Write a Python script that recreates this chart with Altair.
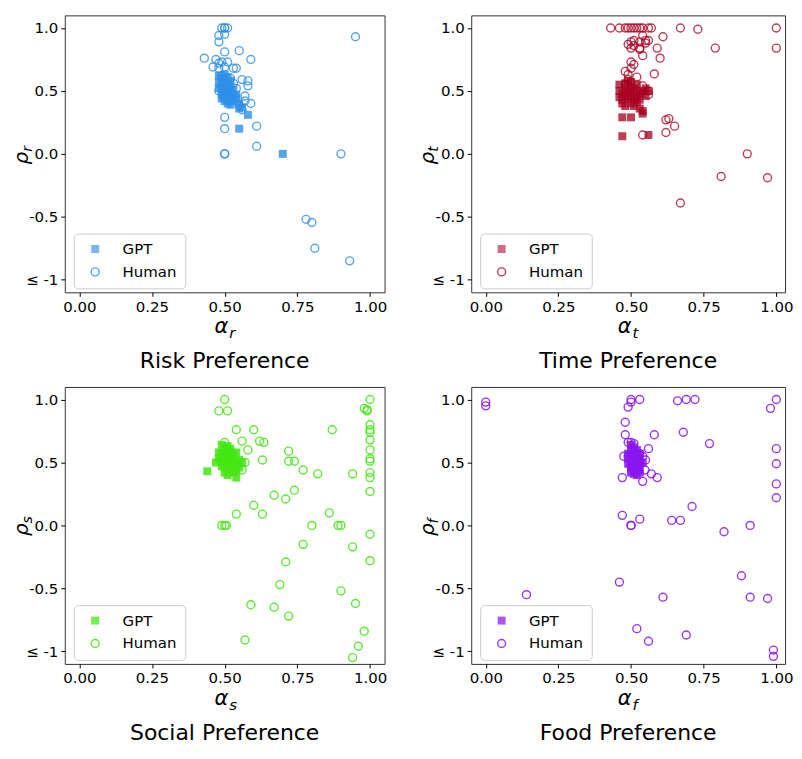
import altair as alt
import pandas as pd

# ---------------- data ----------------
risk_gpt_a = [0.48, 0.49, 0.50, 0.51, 0.48, 0.49, 0.50, 0.51, 0.52, 0.48, 0.49, 0.50, 0.51, 0.52, 0.53,
              0.49, 0.50, 0.51, 0.52, 0.53, 0.54, 0.50, 0.51, 0.52, 0.53, 0.54, 0.55, 0.56, 0.55, 0.52,
              0.49, 0.50, 0.51, 0.58, 0.55, 0.70]
risk_gpt_r = [0.62, 0.60, 0.63, 0.61, 0.57, 0.55, 0.57, 0.56, 0.58, 0.52, 0.50, 0.52, 0.50, 0.53, 0.51,
              0.47, 0.45, 0.46, 0.48, 0.46, 0.47, 0.42, 0.40, 0.43, 0.42, 0.44, 0.40, 0.37, 0.36, 0.39,
              0.44, 0.49, 0.54, 0.31, 0.20, 0.00]
risk_hum_a = [0.50, 0.50, 0.49, 0.51, 0.48, 0.50, 0.48, 0.43, 0.50, 0.55, 0.59, 0.47, 0.48, 0.49, 0.51,
              0.46, 0.48, 0.50, 0.53, 0.54, 0.56, 0.58, 0.58, 0.48, 0.57, 0.59, 0.55, 0.56, 0.57, 0.50,
              0.50, 0.61, 0.61, 0.50, 0.50, 0.90, 0.95, 0.78, 0.80, 0.81, 0.93, 0.49, 0.52, 0.53, 0.54]
risk_hum_r = [1.00, 1.00, 1.00, 1.00, 0.94, 0.95, 0.89, 0.76, 0.81, 0.82, 0.75, 0.75, 0.72, 0.73, 0.73,
              0.69, 0.68, 0.69, 0.68, 0.68, 0.59, 0.58, 0.54, 0.50, 0.46, 0.40, 0.38, 0.35, 0.42, 0.29,
              0.20, 0.22, 0.06, 0.00, 0.00, 0.00, 0.93, -0.52, -0.545, -0.75, -0.85, 0.62, 0.60, 0.56, 0.52]

time_gpt_a = [0.46, 0.48, 0.50, 0.52, 0.46, 0.47, 0.48, 0.49, 0.50, 0.51, 0.52, 0.53, 0.54, 0.55, 0.56,
              0.46, 0.47, 0.48, 0.49, 0.50, 0.51, 0.52, 0.53, 0.55, 0.47, 0.48, 0.50, 0.51, 0.52, 0.53,
              0.54, 0.50, 0.49, 0.47, 0.50, 0.54, 0.47, 0.56]
time_gpt_r = [0.55, 0.56, 0.57, 0.55, 0.50, 0.48, 0.52, 0.50, 0.49, 0.52, 0.50, 0.48, 0.50, 0.52, 0.50,
              0.45, 0.43, 0.46, 0.44, 0.46, 0.44, 0.45, 0.43, 0.46, 0.40, 0.38, 0.40, 0.38, 0.41, 0.36,
              0.34, 0.53, 0.58, 0.29, 0.29, 0.32, 0.14, 0.15]
time_hum_a = [0.43, 0.46, 0.48, 0.49, 0.50, 0.51, 0.52, 0.53, 0.54, 0.56, 0.57, 0.67, 0.73, 1.00, 1.00,
              0.79, 0.61, 0.54, 0.55, 0.53, 0.51, 0.50, 0.49, 0.51, 0.53, 0.56, 0.55, 0.50, 0.53, 0.54,
              0.59, 0.60, 0.50, 0.51, 0.50, 0.48, 0.49, 0.52, 0.58, 0.49, 0.48, 0.54, 0.56, 0.56, 0.62,
              0.63, 0.65, 0.62, 0.54, 0.90, 0.81, 0.97, 0.67]
time_hum_r = [1.00, 1.00, 1.00, 1.00, 1.00, 1.00, 1.00, 1.00, 1.00, 1.00, 1.00, 1.00, 0.99, 1.00, 0.84,
              0.84, 0.93, 0.94, 0.90, 0.89, 0.90, 0.89, 0.87, 0.86, 0.84, 0.90, 0.88, 0.84, 0.83, 0.78,
              0.84, 0.76, 0.73, 0.71, 0.68, 0.655, 0.63, 0.61, 0.635, 0.59, 0.55, 0.54, 0.50, 0.47, 0.27,
              0.28, 0.22, 0.17, 0.15, 0.00, -0.18, -0.19, -0.39]

social_gpt_a = [0.49, 0.50, 0.51, 0.52, 0.48, 0.49, 0.50, 0.51, 0.52, 0.53, 0.54, 0.48, 0.49, 0.50, 0.51,
                0.52, 0.53, 0.54, 0.55, 0.49, 0.50, 0.51, 0.52, 0.53, 0.54, 0.55, 0.50, 0.51, 0.53, 0.54,
                0.52, 0.44, 0.47, 0.56]
social_gpt_r = [0.64, 0.62, 0.63, 0.61, 0.58, 0.57, 0.59, 0.56, 0.58, 0.56, 0.58, 0.53, 0.51, 0.54, 0.52,
                0.50, 0.53, 0.51, 0.52, 0.47, 0.46, 0.48, 0.45, 0.47, 0.44, 0.46, 0.42, 0.40, 0.42, 0.38,
                0.55, 0.43, 0.50, 0.50]
social_hum_a = [0.50, 0.48, 0.51, 0.54, 0.60, 0.56, 0.62, 0.635, 0.58, 0.50, 0.63, 0.57, 0.56, 0.72, 0.72,
                0.74, 0.77, 0.82, 0.87, 0.94, 0.98, 0.99, 0.99, 1.00, 1.00, 1.00, 1.00, 1.00, 1.00, 1.00,
                1.00, 1.00, 1.00, 1.00, 0.74, 0.67, 0.71, 0.60, 0.54, 0.63, 0.49, 0.50, 0.506, 0.86, 0.80,
                0.89, 0.90, 1.00, 0.77, 0.94, 0.71, 1.00, 0.69, 0.90, 0.59, 0.67, 0.72, 0.95, 0.98, 0.57,
                0.96, 0.94]
social_hum_r = [1.00, 0.91, 0.91, 0.76, 0.76, 0.67, 0.67, 0.66, 0.60, 0.66, 0.52, 0.50, 0.44, 0.59, 0.51,
                0.51, 0.44, 0.41, 0.76, 0.41, 0.93, 0.92, 0.91, 1.00, 0.80, 0.76, 0.74, 0.68, 0.60, 0.53,
                0.51, 0.42, 0.38, 0.27, 0.28, 0.24, 0.21, 0.16, 0.09, 0.09, 0.00, 0.00, 0.00, 0.10, 0.00,
                0.00, 0.00, -0.07, -0.15, -0.17, -0.29, -0.28, -0.47, -0.52, -0.63, -0.65, -0.72, -0.62, -0.84, -0.91,
                -0.96, -1.05]

food_gpt_a = [0.50, 0.51, 0.50, 0.52, 0.49, 0.50, 0.51, 0.52, 0.53, 0.49, 0.50, 0.51, 0.52, 0.53, 0.49,
              0.50, 0.51, 0.52, 0.53, 0.50, 0.51, 0.52, 0.53, 0.51, 0.52, 0.53, 0.50, 0.54]
food_gpt_r = [0.64, 0.62, 0.60, 0.60, 0.57, 0.56, 0.58, 0.56, 0.57, 0.53, 0.52, 0.54, 0.52, 0.53, 0.49,
              0.48, 0.50, 0.48, 0.49, 0.45, 0.44, 0.46, 0.44, 0.41, 0.40, 0.42, 0.42, 0.50]
food_hum_a = [0.00, 0.00, 0.14, 0.46, 0.50, 0.50, 0.49, 0.53, 0.66, 0.69, 0.72, 0.98, 1.00, 0.48, 0.48,
              0.58, 0.68, 0.77, 0.49, 0.50, 0.51, 0.56, 0.475, 0.49, 0.53, 0.54, 0.55, 0.548, 0.57, 0.59,
              0.47, 0.54, 1.00, 1.00, 1.00, 1.00, 0.71, 0.47, 0.53, 0.50, 0.50, 0.64, 0.67, 0.82, 0.91,
              0.88, 0.61, 0.91, 0.97, 0.52, 0.56, 0.69, 0.99, 0.99, 0.50, 0.52]
food_hum_r = [0.98, 0.95, -0.55, -0.45, 1.00, 0.98, 0.94, 1.00, 0.99, 1.00, 1.00, 0.93, 1.00, 0.82, 0.72,
              0.72, 0.74, 0.65, 0.66, 0.66, 0.65, 0.61, 0.55, 0.55, 0.57, 0.55, 0.52, 0.44, 0.41, 0.38,
              0.38, 0.35, 0.61, 0.49, 0.33, 0.22, 0.15, 0.08, 0.05, 0.00, 0.00, 0.04, 0.04, -0.05, 0.00,
              -0.40, -0.57, -0.57, -0.58, -0.82, -0.92, -0.87, -0.99, -1.04, 0.47, 0.50]

panels = [
    ("Risk Preference", "r", "#2E8FE8", 0.8, risk_gpt_a, risk_gpt_r, risk_hum_a, risk_hum_r),
    ("Time Preference", "t", "#A8001F", 0.75, time_gpt_a, time_gpt_r, time_hum_a, time_hum_r),
    ("Social Preference", "s", "#44E614", 0.85, social_gpt_a, social_gpt_r, social_hum_a, social_hum_r),
    ("Food Preference", "f", "#8A16F0", 0.85, food_gpt_a, food_gpt_r, food_hum_a, food_hum_r),
]

PX = 292          # pixels per unit of alpha
H = 278
FONT = "DejaVu Sans"


def text_mark(s, x, y, size, align="left", italic=False, angle=0):
    return alt.Chart(pd.DataFrame({"t": [s]})).mark_text(
        align=align, baseline="alphabetic", fontSize=size, font=FONT,
        fontStyle="italic" if italic else "normal", angle=angle, color="black"
    ).encode(text="t:N", x=alt.value(x), y=alt.value(y))


def make_panel(title, sub, color, op, ga, gr, ha, hr, xmax):
    W = round((xmax + 0.05) * PX)
    cx = W / 2
    df = pd.DataFrame({
        "a": ga + ha,
        "r": gr + hr,
        "group": ["GPT"] * len(ga) + ["Human"] * len(ha),
    })
    dom = ["GPT", "Human"]
    leg = alt.Legend(
        title=None, orient="none", legendX=9, legendY=H - 59,
        fillColor="rgba(255,255,255,0.85)",
        strokeColor="#cccccc", cornerRadius=4, padding=8, labelFontSize=15, labelFont=FONT,
        labelColor="black", symbolSize=64, symbolStrokeWidth=1.4, labelOffset=20,
        symbolOffset=6, rowPadding=7,
    )
    pts = alt.Chart(df).mark_point(size=64, strokeWidth=1.4, opacity=op).encode(
        x=alt.X("a:Q", scale=alt.Scale(domain=[-0.05, xmax], nice=False, zero=False),
                axis=alt.Axis(values=[0, 0.25, 0.5, 0.75, 1], format=".2f", title=None)),
        y=alt.Y("r:Q", scale=alt.Scale(domain=[-1.1, 1.1], nice=False, zero=False),
                axis=alt.Axis(values=[-1, -0.5, 0, 0.5, 1], title=None,
                              labelExpr="datum.value <= -1 ? '≤ -1' : (datum.value == -0.5 ? '-0.5' : (datum.value == 0 ? '0.0' : (datum.value == 0.5 ? '0.5' : '1.0')))")),
        shape=alt.Shape("group:N", scale=alt.Scale(domain=dom, range=["square", "circle"]), legend=leg),
        fill=alt.Fill("group:N", scale=alt.Scale(domain=dom, range=[color, "transparent"]), legend=leg),
        stroke=alt.Stroke("group:N", scale=alt.Scale(domain=dom, range=["transparent", color]), legend=leg),
    )
    layers = [
        pts,
        text_mark("α", cx + 3.5, H + 41, 21, align="right", italic=True),
        text_mark(sub, cx + 4.5, H + 46, 15, align="left", italic=True),
        text_mark("ρ", -37, H / 2 - 2, 20, align="right", italic=True, angle=270),
        text_mark(sub, -33, H / 2 - 2, 14, align="left", italic=True, angle=270),
        text_mark(title, cx, H + 76, 22, align="center"),
    ]
    return alt.layer(*layers).properties(width=W, height=H)


ch = [make_panel(*p, xmax=(1.05 if i % 2 == 0 else 1.03)) for i, p in enumerate(panels)]
res = dict(x="independent", y="independent", shape="independent", fill="independent", stroke="independent")
row1 = alt.hconcat(ch[0], ch[1], spacing=30).resolve_scale(**res)
row2 = alt.hconcat(ch[2], ch[3], spacing=30).resolve_scale(**res)

chart = alt.vconcat(row1, row2, spacing=13).resolve_scale(**res).properties(
    padding={"left": 3, "top": 5, "right": 0, "bottom": 0}
).configure_view(
    stroke="#333333", strokeWidth=1
).configure_axis(
    domain=False, grid=False, tickColor="black", tickSize=4, labelFontSize=15,
    labelFont=FONT, labelColor="black", labelPadding=3
)

chart.save("out.html", embed_options={"renderer": "svg", "actions": False})
